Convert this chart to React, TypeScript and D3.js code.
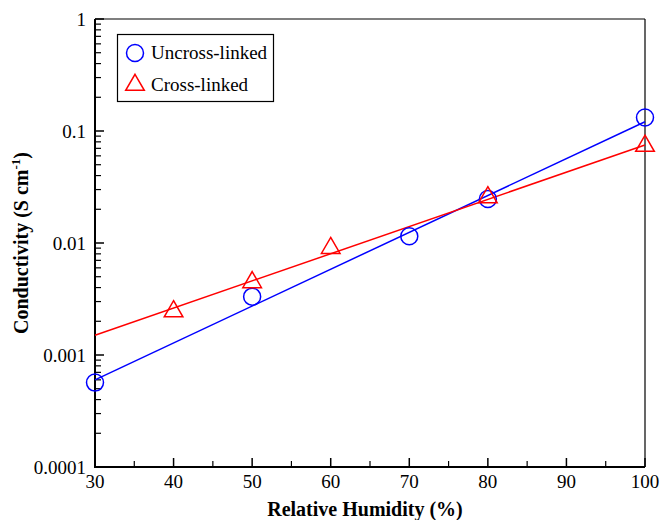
import React from 'react';
import * as d3 from 'd3';

const width = 661;
const height = 520;
const margin = { top: 19, right: 16, bottom: 53, left: 95 };

const humidity = [30, 50, 70, 80, 100];
const uncrossLinked = [5.67e-4, 3.32e-3, 0.0115, 0.0247, 0.132];

const humidityCross = [40, 50, 60, 80, 100];
const crossLinked = [0.00245, 0.00446, 0.009, 0.0255, 0.0735];

// fitted exponential lines (end points)
const fitX = [30, 100];
const fitUncross = [6.0e-4, 0.121];
const fitCross = [1.5e-3, 0.075];

const xTicks = [30, 40, 50, 60, 70, 80, 90, 100];
const xMinorTicks = [35, 45, 55, 65, 75, 85, 95];
const yTicks = [0.0001, 0.001, 0.01, 0.1, 1];
const yTickLabels = ['0.0001', '0.001', '0.01', '0.1', '1'];

const BLUE = '#0000ff';
const RED = '#ff0000';
const txt = { fontFamily: "'Liberation Serif', 'Times New Roman', serif" };

const x0 = margin.left;
const x1 = width - margin.right;
const y0 = height - margin.bottom;
const y1 = margin.top;

const x = d3.scaleLinear().domain([30, 100]).range([x0, x1]);
const y = d3.scaleLog().domain([0.0001, 1]).range([y0, y1]);

// minor log ticks 2..9 in each decade
const yMinor: number[] = [];
for (let e = -4; e < 0; e++) {
	for (let m = 2; m <= 9; m++) yMinor.push(m * Math.pow(10, e));
}

const line = d3
	.line<number>()
	.x((d, i) => x(fitX[i]))
	.y(d => y(d));
const tri = d3.symbol().type(d3.symbolTriangle).size(150)() as string;

export default function App() {
	return (
		<svg width={width} height={height} style={{ position: 'absolute', left: 0, top: 0, background: '#fff' }}>
			{/* frame top/right */}
			<line x1={x0} x2={x1} y1={y1} y2={y1} stroke="#000" strokeWidth={1.2} />
			<line x1={x1} x2={x1} y1={y1} y2={y0} stroke="#000" strokeWidth={1.2} />

			{/* y ticks */}
			{yMinor.map((d, i) => (
				<line key={'ym' + i} x1={x0} x2={x0 + 6} y1={y(d)} y2={y(d)} stroke="#000" strokeWidth={1.2} />
			))}
			{yTicks.map((d, i) => (
				<g key={'y' + i}>
					<line x1={x0} x2={x0 + 9} y1={y(d)} y2={y(d)} stroke="#000" strokeWidth={1.5} />
					<text x={x0 - 9} y={y(d)} dy="0.35em" textAnchor="end" style={txt} fontSize={19}>
						{yTickLabels[i]}
					</text>
				</g>
			))}

			{/* x ticks */}
			{xMinorTicks.map((d, i) => (
				<line key={'xm' + i} x1={x(d)} x2={x(d)} y1={y0} y2={y0 - 6} stroke="#000" strokeWidth={1.2} />
			))}
			{xTicks.map((d, i) => (
				<g key={'x' + i}>
					<line x1={x(d)} x2={x(d)} y1={y0} y2={y0 - 9} stroke="#000" strokeWidth={1.5} />
					<text x={x(d)} y={y0 + 21} textAnchor="middle" style={txt} fontSize={19}>
						{d}
					</text>
				</g>
			))}

			{/* left and bottom axes */}
			<line x1={x0} x2={x0} y1={y1} y2={y0} stroke="#000" strokeWidth={2} />
			<line x1={x0 - 1} x2={x1} y1={y0} y2={y0} stroke="#000" strokeWidth={2} />

			{/* axis titles */}
			<text x={365} y={516} textAnchor="middle" style={txt} fontSize={20} fontWeight="bold">
				Relative Humidity (%)
			</text>
			<text
				transform={`translate(28,${(y0 + y1) / 2}) rotate(-90)`}
				textAnchor="middle"
				style={txt}
				fontSize={20}
				fontWeight="bold"
			>
				<tspan>Conductivity (S cm</tspan>
				<tspan dy={-8} fontSize={13}>-1</tspan>
				<tspan dy={8}>)</tspan>
			</text>

			{/* fit lines */}
			<path d={line(fitUncross) || ''} fill="none" stroke={BLUE} strokeWidth={1.5} />
			<path d={line(fitCross) || ''} fill="none" stroke={RED} strokeWidth={1.5} />

			{/* markers */}
			{uncrossLinked.map((d, i) => (
				<circle key={'c' + i} cx={x(humidity[i])} cy={y(d)} r={8.5} fill="none" stroke={BLUE} strokeWidth={1.5} />
			))}
			{crossLinked.map((d, i) => (
				<path
					key={'t' + i}
					d={tri}
					transform={`translate(${x(humidityCross[i])},${y(d)})`}
					fill="none"
					stroke={RED}
					strokeWidth={1.5}
				/>
			))}

			{/* legend */}
			<rect x={117.5} y={34.5} width={156} height={67} fill="none" stroke="#000" strokeWidth={1.2} />
			<circle cx={135} cy={53} r={8.5} fill="none" stroke={BLUE} strokeWidth={1.5} />
			<path d={tri} transform="translate(135,85)" fill="none" stroke={RED} strokeWidth={1.5} />
			<text x={151} y={59} style={txt} fontSize={19}>Uncross-linked</text>
			<text x={151} y={91} style={txt} fontSize={19}>Cross-linked</text>
		</svg>
	);
}
